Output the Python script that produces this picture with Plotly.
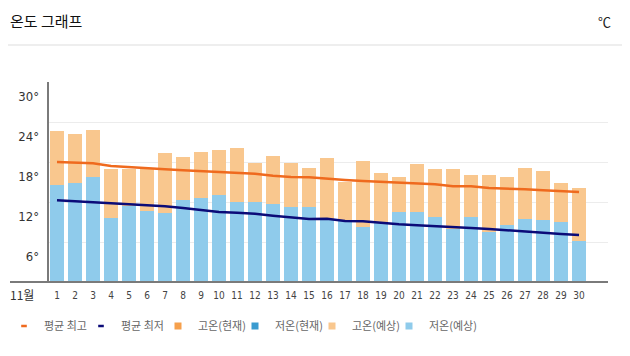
import plotly.graph_objects as go

days = list(range(1, 31))
high_forecast = [22.6, 22.2, 22.8, 17.0, 16.9, 16.9, 19.3, 18.7, 19.45, 19.75,
                 20.05, 17.85, 18.9, 17.85, 17.05, 18.55, 15.0, 18.15, 16.35, 15.75,
                 17.7, 16.9, 16.9, 16.05, 16.05, 15.75, 17.1, 16.65, 14.85, 14.05]
low_forecast = [14.5, 14.85, 15.8, 9.6, 11.35, 10.6, 10.3, 12.25, 12.55, 13.0,
                12.05, 12.05, 11.65, 11.2, 11.2, 9.4, 9.3, 8.2, 8.8, 10.5,
                10.5, 9.75, 7.95, 9.75, 7.5, 8.5, 9.5, 9.3, 9.0, 6.1]
avg_high = [18.0, 17.9, 17.8, 17.4, 17.2, 17.05, 16.9, 16.75, 16.65, 16.55,
            16.4, 16.25, 15.95, 15.75, 15.7, 15.45, 15.3, 15.15, 15.0, 14.85,
            14.7, 14.65, 14.35, 14.35, 14.1, 14.05, 13.9, 13.75, 13.6, 13.5]
avg_low = [12.25, 12.1, 12.0, 11.75, 11.6, 11.5, 11.35, 11.1, 10.85, 10.5,
           10.4, 10.25, 9.95, 9.75, 9.45, 9.5, 9.15, 9.1, 8.85, 8.65,
           8.5, 8.4, 8.25, 8.1, 7.95, 7.75, 7.5, 7.35, 7.2, 7.05]
y_ticks = [6, 12, 18, 24, 30]
y_tick_text = ["6°", "12°", "18°", "24°", "30°"]
legend_names = ["평균 최고", "평균 최저", "고온(현재)", "저온(현재)", "고온(예상)", "저온(예상)"]
legend_colors = ["#ef6a1e", "#0b0b78", "#f6a04c", "#3a9bd0", "#f9c78e", "#8fcbeb"]
legend_symbols = ["line-ew", "line-ew", "square", "square", "square", "square"]

C_HIGH_FC = "#f9c78e"
C_LOW_FC = "#8fcbeb"
C_AVG_HIGH = "#ef6a1e"
C_AVG_LOW = "#0b0b78"

NARROW = "Liberation Sans Narrow, DejaVu Sans Condensed, Arial Narrow, sans-serif"
KR = "Noto Sans CJK KR, sans-serif"

# page body has an 8px default margin: figure is 622x348 placed at (8, 8)
W, H = 622, 348
PL, PR, PT, PB = 41, 22, 74, 74   # plot area 559 x 200 px
PW, PH = W - PL - PR, H - PT - PB

fig = go.Figure()
fig.add_trace(go.Bar(x=days, y=high_forecast, marker=dict(color=C_HIGH_FC, line=dict(width=0)),
                     width=0.75, showlegend=False, name="고온(예상)"))
fig.add_trace(go.Bar(x=days, y=low_forecast, marker=dict(color=C_LOW_FC, line=dict(width=0)),
                     width=0.75, showlegend=False, name="저온(예상)"))
fig.add_trace(go.Scatter(x=days, y=avg_high, mode="lines", line=dict(color=C_AVG_HIGH, width=2.5),
                         showlegend=False, name="평균 최고"))
fig.add_trace(go.Scatter(x=days, y=avg_low, mode="lines", line=dict(color=C_AVG_LOW, width=2.5),
                         showlegend=False, name="평균 최저"))

# legend entries
for name, col, sym in zip(legend_names, legend_colors, legend_symbols):
    if sym == "line-ew":
        mk = dict(symbol=sym, size=4, line=dict(color=col, width=2.5))
    else:
        mk = dict(symbol=sym, size=7, color=col, line=dict(width=0))
    fig.add_trace(go.Scatter(x=[None], y=[None], mode="markers", marker=mk, name=name,
                             showlegend=True))
# spacer entry so the last legend label is not clipped
fig.add_trace(go.Scatter(x=[None], y=[None], mode="markers",
                         marker=dict(size=1, color="rgba(0,0,0,0)"), name=" ", showlegend=True))

# invisible trace on label axis
fig.add_trace(go.Scatter(x=[None], y=[None], yaxis="y2", showlegend=False))

def px_x(fx):
    return (fx - PL) / PW

def px_y(fy):
    return (PT + PH - fy) / PH

fig.update_layout(
    width=W, height=H,
    margin=dict(l=PL, r=PR, t=PT, b=PB, autoexpand=False),
    paper_bgcolor="white", plot_bgcolor="white",
    barmode="overlay", bargap=0,
    font=dict(family=KR, color="#333"),
    title=dict(text="온도 그래프", x=2 / W, xanchor="left", xref="container",
               y=1 - 14 / H, yanchor="middle", yref="container", pad=dict(l=0, r=0, t=0, b=0),
               automargin=False,
               font=dict(family=KR, size=15, color="#111")),
    xaxis=dict(range=[0.556, 31.61], tickvals=days, ticktext=[str(d) for d in days],
               showgrid=False, zeroline=False, showline=False, ticks="", automargin=False,
               ticklabelstandoff=6,
               tickfont=dict(family=NARROW, size=10, color="#444")),
    yaxis=dict(range=[0, 30], tickvals=y_ticks, showticklabels=False, automargin=False,
               showgrid=True, gridcolor="#ececec", gridwidth=1, zeroline=False,
               showline=True, linecolor="#7a7a7a", linewidth=2, ticks=""),
    yaxis2=dict(range=[0, 30], overlaying="y", side="left", automargin=False,
                tickvals=[v - 2.2 for v in y_ticks], ticktext=y_tick_text,
                showgrid=False, zeroline=False, showline=False, ticks="",
                ticklabelstandoff=9,
                tickfont=dict(family=NARROW, size=13, color="#333")),
    legend=dict(orientation="h", x=px_x(-4), xanchor="left", y=px_y(318),
                yanchor="middle", xref="paper", yref="paper", entrywidth=32,
                entrywidthmode="pixels", itemwidth=30,
                font=dict(family=KR, size=11, color="#666"),
                bgcolor="rgba(0,0,0,0)"),
    shapes=[
        dict(type="line", xref="paper", yref="paper", x0=px_x(2), x1=1, y0=0, y1=0,
             line=dict(color="#7a7a7a", width=2), layer="above"),
        dict(type="line", xref="paper", yref="paper", x0=px_x(0), x1=px_x(W),
             y0=px_y(37), y1=px_y(37),
             line=dict(color="#dddddd", width=1)),
    ],
    annotations=[
        dict(text="℃", xref="paper", yref="paper", x=px_x(605), xanchor="right",
             y=px_y(14), yanchor="middle", showarrow=False,
             font=dict(family=KR, size=13, color="#222")),
        dict(text="11월", xref="paper", yref="paper", x=px_x(14), xanchor="center",
             y=0, yanchor="middle", yshift=-12, showarrow=False,
             font=dict(family=KR, size=12, color="#333")),
    ],
)

fig.write_html("out.html")
